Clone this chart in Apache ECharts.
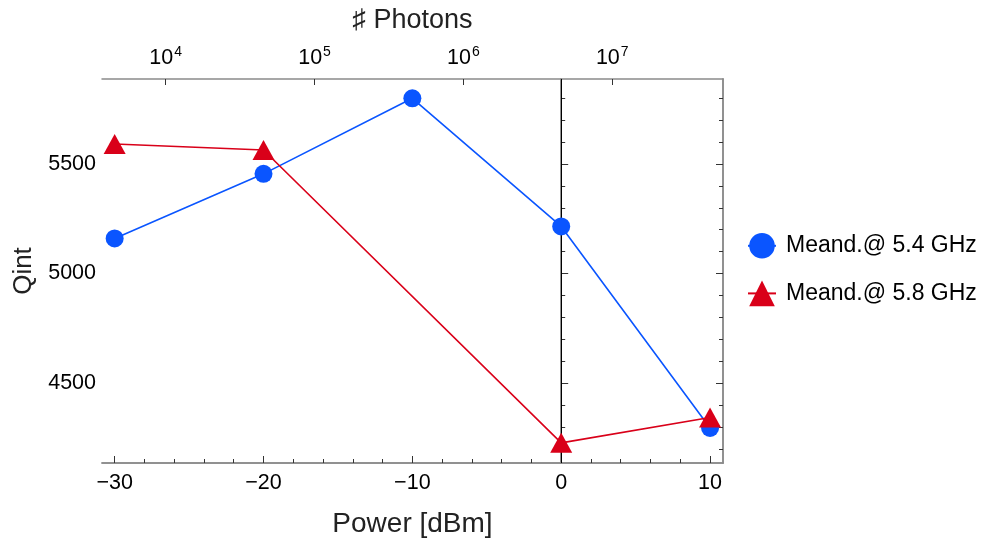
<!DOCTYPE html>
<html>
<head>
<meta charset="utf-8">
<script src="https://cdn.jsdelivr.net/npm/echarts@6/dist/echarts.min.js"></script>
<style>
  html, body { margin: 0; padding: 0; background: #fff; }
  #chart { width: 983px; height: 543px; }
</style>
</head>
<body>
<div id="chart"></div>
<script>
// Meand. @ 5.4 GHz
const power54 = [-30, -20, -10, 0, 10]
const qint54 = [5160, 5455, 5800, 5215, 4295]
// Meand. @ 5.8 GHz (no point at -10 dBm)
const power58 = [-30, -20, 0, 10]
const qint58 = [5591, 5564, 4227, 4343]

const xMajor = [-30, -20, -10, 0, 10]
const xMinor = [-28, -26, -24, -22, -18, -16, -14, -12, -8, -6, -4, -2, 2, 4, 6, 8]
const yMajor = [4500, 5000, 5500]
const yMinor = [4200, 4300, 4400, 4600, 4700, 4800, 4900, 5100, 5200, 5300, 5400, 5600, 5700, 5800]
const photonExp = [4, 5, 6, 7]

const xMin = -30.85
const xMax = 10.87
const yMin = 4135
const yMax = 5888
// photons: 10^4 sits at -26.57 dBm, one decade per 10 dB
const photonOffset = -26.57
const pMin = 4 + (xMin - photonOffset) / 10
const pMax = 4 + (xMax - photonOffset) / 10

const blue = '#0a55ff'
const red = '#d90019'
const frame = '#8a8a8a'
const font = 'Liberation Sans, Arial, sans-serif'

const chart = echarts.init(document.getElementById('chart'))

function minusFmt(v) {
  return v < 0 ? '\u2212' + Math.abs(v) : String(v)
}

const xBase = {
  type: 'value', min: xMin, max: xMax,
  splitLine: { show: false },
  axisLine: { show: true, lineStyle: { color: frame, width: 1.5 } }
}
const yBase = {
  type: 'value', min: yMin, max: yMax,
  splitLine: { show: false },
  axisLine: { show: true, lineStyle: { color: frame, width: 1.5 } }
}

const option = {
  animation: false,
  textStyle: { fontFamily: font },
  grid: { left: 102, right: 260, top: 79, bottom: 80 },
  legend: {
    orient: 'vertical',
    left: 742,
    top: 228,
    itemWidth: 28,
    itemHeight: 32,
    itemGap: 22,
    textStyle: { fontSize: 23, color: '#000', fontFamily: font, padding: [0, 0, 0, 5] },
    data: ['Meand.@ 5.4 GHz', 'Meand.@ 5.8 GHz']
  },
  xAxis: [
    Object.assign({}, xBase, {
      position: 'bottom',
      axisTick: { show: true, inside: true, length: 7, lineStyle: { color: '#333' }, customValues: xMajor },
      axisLabel: { show: true, customValues: xMajor, formatter: minusFmt, fontSize: 21.5, color: '#000', margin: 9 },
      name: 'Power [dBm]', nameLocation: 'middle', nameGap: 47,
      nameTextStyle: { fontSize: 28, color: '#222' }
    }),
    Object.assign({}, xBase, {
      position: 'bottom',
      axisTick: { show: true, inside: true, length: 4, lineStyle: { color: '#333' }, customValues: xMinor },
      axisLabel: { show: false }
    }),
    {
      type: 'value', min: pMin, max: pMax, position: 'top',
      splitLine: { show: false },
      axisLine: { show: true, lineStyle: { color: frame, width: 1.5 } },
      axisTick: { show: true, inside: true, length: 6, lineStyle: { color: '#333' }, customValues: photonExp },
      axisLabel: {
        show: true, customValues: photonExp, margin: 10,
        formatter: v => '{b|10}{s|' + v + '}',
        rich: {
          b: { fontSize: 21.5, color: '#000', fontFamily: font, lineHeight: 24, verticalAlign: 'bottom' },
          s: { fontSize: 14, color: '#000', fontFamily: font, lineHeight: 24, verticalAlign: 'top', padding: [0, 0, 8, 1] }
        }
      },
      name: '\u266F Photons', nameLocation: 'middle', nameGap: 45,
      nameTextStyle: { fontSize: 27, color: '#222' }
    }
  ],
  yAxis: [
    Object.assign({}, yBase, {
      position: 'left',
      axisTick: { show: true, inside: true, length: 7, lineStyle: { color: '#333' }, customValues: yMajor },
      axisLabel: { show: true, customValues: yMajor, formatter: v => String(v), fontSize: 21.5, color: '#000', margin: 6 },
      name: 'Qint', nameLocation: 'middle', nameGap: 64, nameRotate: 90,
      nameTextStyle: { fontSize: 26, color: '#222' }
    }),
    Object.assign({}, yBase, {
      position: 'left',
      axisTick: { show: true, inside: true, length: 4, lineStyle: { color: '#333' }, customValues: yMinor },
      axisLabel: { show: false }
    }),
    Object.assign({}, yBase, {
      position: 'right',
      axisTick: { show: true, inside: true, length: 7, lineStyle: { color: '#333' }, customValues: yMajor },
      axisLabel: { show: false }
    }),
    Object.assign({}, yBase, {
      position: 'right',
      axisTick: { show: true, inside: true, length: 4, lineStyle: { color: '#333' }, customValues: yMinor },
      axisLabel: { show: false }
    })
  ],
  series: [
    {
      name: 'Meand.@ 5.4 GHz',
      type: 'line',
      data: power54.map((p, i) => [p, qint54[i]]),
      symbol: 'circle',
      symbolSize: 18,
      color: blue,
      itemStyle: { color: blue },
      lineStyle: { color: blue, width: 1.6 },
      z: 3,
      markLine: {
        silent: true,
        symbol: 'none',
        label: { show: false },
        lineStyle: { color: '#000', width: 1, type: 'solid' },
        data: [{ xAxis: 0 }],
        z: 1
      }
    },
    {
      name: 'Meand.@ 5.8 GHz',
      type: 'line',
      data: power58.map((p, i) => [p, qint58[i]]),
      symbol: 'triangle',
      symbolSize: [22, 20],
      color: red,
      itemStyle: { color: red },
      lineStyle: { color: red, width: 1.6 },
      z: 4
    }
  ]
}

chart.setOption(option)
</script>
</body>
</html>
